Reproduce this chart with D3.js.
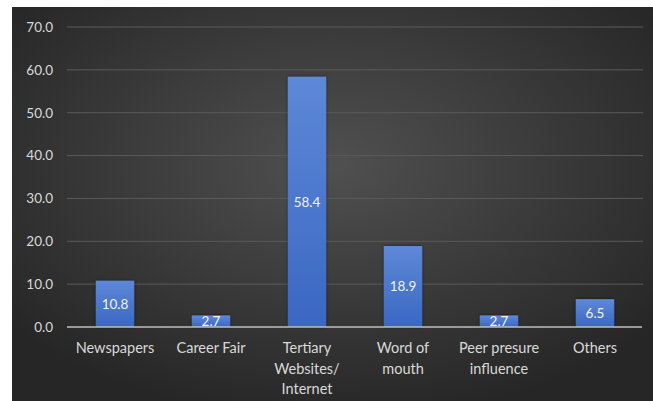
<!DOCTYPE html>
<html><head><meta charset="utf-8">
<script src="https://cdn.jsdelivr.net/npm/d3@7"></script>
<style>html,body{margin:0;padding:0;background:#fff;}svg{display:block;}</style>
</head><body>
<script>
const categories = [["Newspapers"],["Career Fair"],["Tertiary","Websites/","Internet"],["Word of","mouth"],["Peer presure","influence"],["Others"]];
const values = [10.8, 2.7, 58.4, 18.9, 2.7, 6.5];
const yTicks = [0,10,20,30,40,50,60,70];

const W = 653, H = 401;
const svg = d3.select("body").append("svg").attr("width", W).attr("height", H);
const defs = svg.append("defs");
const bg = defs.append("radialGradient").attr("id","bg").attr("cx","50%").attr("cy","40%").attr("r","65%");
bg.append("stop").attr("offset","0%").attr("stop-color","#505050");
bg.append("stop").attr("offset","100%").attr("stop-color","#262626");
const bar = defs.append("linearGradient").attr("id","bar").attr("x1",0).attr("y1",0).attr("x2",0).attr("y2",1);
bar.append("stop").attr("offset","0%").attr("stop-color","#5e88d8");
bar.append("stop").attr("offset","100%").attr("stop-color","#3a67c2");
defs.append("clipPath").attr("id","plotclip").append("rect").attr("x",0).attr("y",0).attr("width",W).attr("height",326);
const sh = defs.append("filter").attr("id","sh").attr("x","-20%").attr("y","-20%").attr("width","140%").attr("height","140%");
sh.append("feDropShadow").attr("dx",0).attr("dy",0).attr("stdDeviation",1.5).attr("flood-color","#000").attr("flood-opacity",0.6);

svg.append("rect").attr("x",12).attr("y",7).attr("width",W-12).attr("height",H-7).attr("fill","url(#bg)");

const x = d3.scaleBand().domain(d3.range(categories.length)).range([67, 643]).paddingInner(0.6).paddingOuter(0.3);
const y = d3.scaleLinear().domain([0,70]).range([327, 27]);

// gridlines
svg.append("g").selectAll("line").data(yTicks.filter(d=>d>0)).join("line")
  .attr("x1",67).attr("x2",643).attr("y1",d=>y(d)).attr("y2",d=>y(d))
  .attr("stroke","#5a5a5a").attr("stroke-width",1);

// y axis labels
const yAxis = d3.axisLeft(y).tickValues(yTicks).tickFormat(d3.format(".1f")).tickSize(0).tickPadding(0);
const ya = svg.append("g").attr("transform","translate(53,0)").call(yAxis);
ya.select(".domain").remove();
ya.selectAll("text").attr("fill","#d9d9d9").attr("font-family","Lato, 'Open Sans', sans-serif").attr("font-size","13.5px");

// bars
svg.append("g").selectAll("rect").data(values).join("rect")
  .attr("x",(d,i)=>x(i)).attr("width",x.bandwidth())
  .attr("y",d=>y(d)).attr("height",d=>y(0)-y(d))
  .attr("fill","url(#bar)").attr("filter","url(#sh)");

// value labels
svg.append("g").attr("clip-path","url(#plotclip)").selectAll("text").data(values).join("text")
  .attr("x",(d,i)=>x(i)+x.bandwidth()/2).attr("y",d=>(y(d)+y(0))/2)
  .attr("dy","0.35em").attr("text-anchor","middle")
  .attr("fill","#f2f2f2").attr("font-family","Lato, 'Open Sans', sans-serif").attr("font-size","13.5px")
  .text(d=>d3.format(".1f")(d));

// x axis line
svg.append("line").attr("x1",67).attr("x2",642).attr("y1",y(0)).attr("y2",y(0)).attr("stroke","#bfbfbf").attr("stroke-width",1.5);

// category labels
const cg = svg.append("g").selectAll("text").data(categories).join("text")
  .attr("x",(d,i)=>x(i)+x.bandwidth()/2).attr("y",348).attr("dy","0.35em")
  .attr("text-anchor","middle").attr("fill","#d9d9d9")
  .attr("font-family","Lato, 'Open Sans', sans-serif").attr("font-size","14.5px");
cg.each(function(d){
  const t = d3.select(this);
  d.forEach((line,j)=>{
    t.append("tspan").attr("x",t.attr("x")).attr("y",348 + j*20.5).attr("dy","0.35em").text(line);
  });
});
</script>
</body></html>
